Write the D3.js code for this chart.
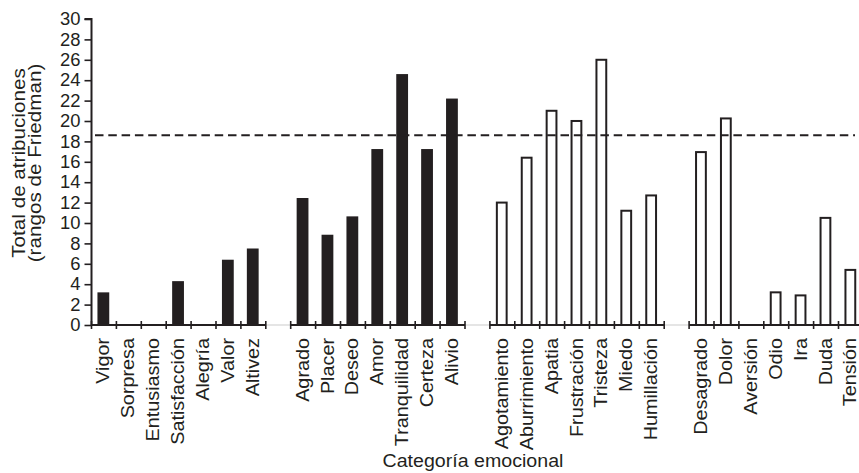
<!DOCTYPE html>
<html>
<head>
<meta charset="utf-8">
<script src="https://cdn.jsdelivr.net/npm/d3@7"></script>
<style>
  html, body { margin: 0; padding: 0; background: #fff; }
  svg text { font-family: "Liberation Sans", Arial, sans-serif; fill: #231f20; }
</style>
</head>
<body>
<svg id="chart" width="859" height="473"></svg>
<script>
// ---- data ----
const categories = [
  "Vigor", "Sorpresa", "Entusiasmo", "Satisfacción", "Alegría", "Valor", "Altivez",
  "Agrado", "Placer", "Deseo", "Amor", "Tranquilidad", "Certeza", "Alivio",
  "Agotamiento", "Aburrimiento", "Apatia", "Frustración", "Tristeza", "Miedo", "Humillación",
  "Desagrado", "Dolor", "Aversión", "Odio", "Ira", "Duda", "Tensión"
];
const values = [
  3.2, 0, 0, 4.3, 0, 6.4, 7.5,
  12.45, 8.85, 10.65, 17.25, 24.6, 17.25, 22.2,
  12.1, 16.5, 21.1, 20.1, 26.1, 11.3, 12.8,
  17.05, 20.35, 0, 3.3, 3.0, 10.6, 5.5
];
const groupOf = [
  0, 0, 0, 0, 0, 0, 0,
  1, 1, 1, 1, 1, 1, 1,
  2, 2, 2, 2, 2, 2, 2,
  3, 3, 3, 3, 3, 3, 3
];
const groupFilled = [true, true, false, false];
const yTicks = [0, 2, 4, 6, 8, 10, 12, 14, 16, 18, 20, 22, 24, 26, 28, 30];
const threshold = 18.6;
const yTitle = ["Total de atribuciones", "(rangos de Friedman)"];
const xTitle = "Categoría emocional";

// ---- layout ----
const svg = d3.select("#chart");
const ink = "#231f20";
const axisX = 91.5, y0 = 325, yTop = 19;
const slotW = 24.9;

// stretch text along its direction (reference font is wider than Arial)
function stretch(sel, k) {
  sel.each(function () {
    const L = this.getComputedTextLength();
    d3.select(this).attr("textLength", L * k).attr("lengthAdjust", "spacingAndGlyphs");
  });
}

const slots = [];
categories.forEach((c, i) => {
  if (i > 0 && groupOf[i] !== groupOf[i - 1]) slots.push("__gap" + groupOf[i]);
  slots.push(c);
});
const x = d3.scaleBand().domain(slots).range([axisX, axisX + slotW * slots.length]).padding(0);
const y = d3.scaleLinear().domain([0, 30]).range([y0, yTop]);

svg.append("line")
  .attr("x1", axisX).attr("x2", 859).attr("y1", y0).attr("y2", y0)
  .attr("stroke", "#dcdcdc").attr("stroke-width", 1.5);

// bars
const barW = 11.8;
const bars = svg.append("g");
categories.forEach((c, i) => {
  if (values[i] <= 0) return;
  const filled = groupFilled[groupOf[i]];
  const cx = x(c) + x.bandwidth() / 2 - 0.6;
  if (filled) {
    bars.append("rect")
      .attr("x", cx - barW / 2).attr("width", barW)
      .attr("y", y(values[i])).attr("height", y0 - y(values[i]))
      .attr("fill", ink);
  } else {
    bars.append("rect")
      .attr("x", cx - barW / 2 + 1).attr("width", barW - 2)
      .attr("y", y(values[i]) + 1).attr("height", y0 - y(values[i]) - 1)
      .attr("fill", "#fff").attr("stroke", ink).attr("stroke-width", 2);
  }
});

// x axis segments per group
const groupIds = Array.from(new Set(groupOf));
groupIds.forEach(g => {
  const cats = categories.filter((c, i) => groupOf[i] === g);
  const gx = d3.scaleBand().domain(cats)
    .range([x(cats[0]), x(cats[cats.length - 1]) + x.bandwidth()]);
  const gAxis = svg.append("g").attr("transform", `translate(0,${y0})`);
  gAxis.append("line")
    .attr("x1", gx.range()[0]).attr("x2", gx.range()[1])
    .attr("stroke", ink).attr("stroke-width", 2);
  const bounds = cats.map(c => gx(c)).concat([gx.range()[1]]);
  gAxis.selectAll("line.tk").data(bounds).enter().append("line")
    .attr("class", "tk")
    .attr("x1", d => d).attr("x2", d => d)
    .attr("y1", -4).attr("y2", 4)
    .attr("stroke", ink).attr("stroke-width", 1.6);
});

// x labels
const xl = svg.append("g").selectAll("text").data(categories).enter().append("text")
  .attr("transform", d => `translate(${x(d) + x.bandwidth() / 2 - 1},${y0 + 13}) rotate(-90)`)
  .attr("text-anchor", "end")
  .attr("dy", "0.36em")
  .attr("font-size", 18)
  .text(d => d);
stretch(xl, 1.1);

// y axis
const yAxis = d3.axisLeft(y).tickValues(yTicks).tickSize(7).tickPadding(4);
const yg = svg.append("g").attr("transform", `translate(${axisX},0)`).call(yAxis);
yg.select(".domain").attr("stroke", ink).attr("stroke-width", 2).attr("d", `M-7,${yTop}H0V${y0}`);
yg.selectAll(".tick line").attr("stroke", ink).attr("stroke-width", 1.6);
const ytl = yg.selectAll(".tick text").attr("font-size", 17.5)
  .attr("font-family", "Liberation Sans, Arial, sans-serif").attr("fill", ink);
stretch(ytl, 1.05);

// threshold line
svg.append("line")
  .attr("x1", 95).attr("x2", 855)
  .attr("y1", y(threshold)).attr("y2", y(threshold))
  .attr("stroke", ink).attr("stroke-width", 2)
  .attr("stroke-dasharray", "8.5,4.8");

// titles
const yt = svg.append("g").attr("transform", `translate(19,163) rotate(-90)`);
yTitle.forEach((t, i) => {
  const tx = yt.append("text")
    .attr("x", 0).attr("y", i * 16)
    .attr("dy", "0.36em")
    .attr("text-anchor", "middle")
    .attr("font-size", 17.5)
    .text(t);
  stretch(tx, 1.18);
});
const xt = svg.append("text")
  .attr("x", 473).attr("y", 467)
  .attr("text-anchor", "middle")
  .attr("font-size", 17.5)
  .text(xTitle);
stretch(xt, 1.12);
</script>
</body>
</html>
